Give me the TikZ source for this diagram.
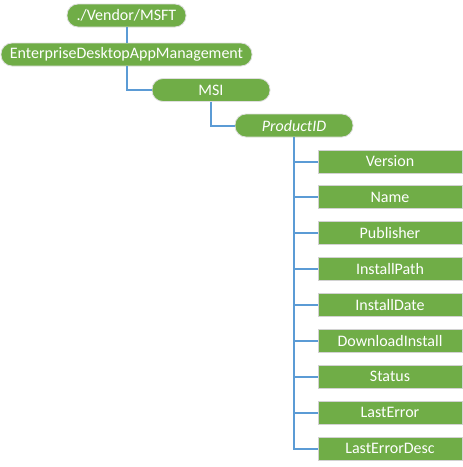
\documentclass[tikz,border=0pt]{standalone}
\usepackage{fontspec}
\setmainfont{Carlito}

\definecolor{leafgreen}{HTML}{70AD47}
\definecolor{linkblue}{HTML}{5B9BD5}

\begin{document}
\begin{tikzpicture}[x=1pt,y=-1pt,
	every node/.style={text=white,font=\fontsize{16}{19}\selectfont,inner sep=0pt},
	pill/.style={fill=leafgreen,draw=gray!25,line width=0.8pt,rounded corners=11pt,minimum height=23pt},
	leaf/.style={fill=leafgreen,draw=gray!35,line width=1pt,minimum width=144pt,minimum height=23pt},
	link/.style={draw=linkblue,line width=2pt}]
	\useasboundingbox (0,0) rectangle (463,467);

	\node[pill,minimum width=119pt] (V) at (126.5,15.5) {./Vendor/MSFT};
	\node[pill,minimum width=251pt] (E) at (126.5,54.5) {EnterpriseDesktopAppManagement};
	\node[pill,minimum width=118pt] (M) at (211,90) {MSI};
	\node[pill,minimum width=118pt] (P) at (294,125.5) {\itshape ProductID};

	\node[leaf] (C1) at (390,161.5) {Version};
	\node[leaf] (C2) at (390,197.4) {Name};
	\node[leaf] (C3) at (390,233.3) {Publisher};
	\node[leaf] (C4) at (390,269.1) {InstallPath};
	\node[leaf] (C5) at (390,305) {InstallDate};
	\node[leaf] (C6) at (390,340.9) {DownloadInstall};
	\node[leaf] (C7) at (390,376.8) {Status};
	\node[leaf] (C8) at (390,412.6) {LastError};
	\node[leaf] (C9) at (390,448.5) {LastErrorDesc};

	\draw[link] (V) -- (E);
	\draw[link] (E) |- (M);
	\draw[link] (M) |- (P);
	\draw[link] (P) |- (C1);
	\draw[link] (P) |- (C2);
	\draw[link] (P) |- (C3);
	\draw[link] (P) |- (C4);
	\draw[link] (P) |- (C5);
	\draw[link] (P) |- (C6);
	\draw[link] (P) |- (C7);
	\draw[link] (P) |- (C8);
	\draw[link] (P) |- (C9);
\end{tikzpicture}
\end{document}
